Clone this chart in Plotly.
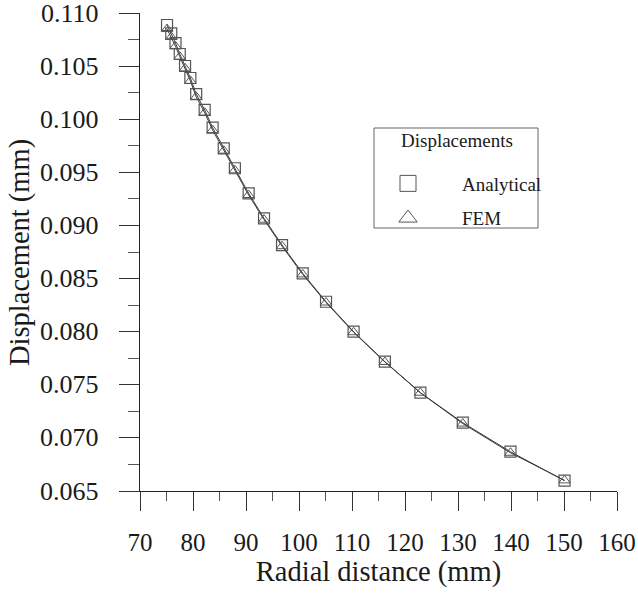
import plotly.graph_objects as go

# Radial distance (mm)
radial = [75.1, 75.9, 76.7, 77.5, 78.5, 79.5, 80.6, 82.2, 83.7, 85.8, 87.9,
          90.5, 93.4, 96.8, 100.7, 105.1, 110.3, 116.2, 122.9, 130.9, 139.9, 150.1]
# Displacement (mm)
analytical = [0.10888, 0.10810, 0.10718, 0.10615, 0.10502, 0.10389, 0.10238,
              0.10088, 0.09921, 0.09727, 0.09539, 0.09303, 0.09068, 0.08816,
              0.08550, 0.08282, 0.08000, 0.07718, 0.07426, 0.07143, 0.06870, 0.06597]
fem = [0.10850, 0.10775, 0.10688, 0.10590, 0.10480, 0.10362, 0.10212,
       0.10062, 0.09898, 0.09705, 0.09520, 0.09287, 0.09055, 0.08805,
       0.08540, 0.08275, 0.07995, 0.07715, 0.07425, 0.07135, 0.06860, 0.06600]

x_ticks = [70, 80, 90, 100, 110, 120, 130, 140, 150, 160]
y_ticks = [0.065, 0.070, 0.075, 0.080, 0.085, 0.090, 0.095, 0.100, 0.105, 0.110]
y_tick_labels = [f"{v:.3f}" for v in y_ticks]

FONT = "Liberation Serif"
TXT = "#1a1a1a"
NB = "\u00a0"
fig = go.Figure()

fig.add_trace(go.Scatter(
    x=radial, y=analytical, mode="lines+markers", showlegend=False,
    line=dict(color="#3a3a3a", width=1),
    marker=dict(symbol="square-open", size=11, color="#555555", line=dict(width=1.2)),
))
fig.add_trace(go.Scatter(
    x=radial, y=fem, mode="lines+markers", showlegend=False,
    line=dict(color="#3a3a3a", width=1),
    marker=dict(symbol="triangle-up-open", size=10, color="#555555", line=dict(width=1)),
))
# legend entries
fig.add_trace(go.Scatter(
    x=[None], y=[None], mode="markers", name=NB * 4 + "Analytical", legendgroup="a",
    marker=dict(symbol="square-open", size=20, color="#555555", line=dict(width=1)),
))
fig.add_trace(go.Scatter(
    x=[None], y=[None], mode="markers", name=NB * 4 + "FEM", legendgroup="b",
    marker=dict(symbol="triangle-up-open", size=20, color="#555555", line=dict(width=1)),
))

# legend frame and title
fig.add_shape(type="rect", xref="paper", yref="paper",
              x0=0.4906, x1=0.8344, y0=0.5502, y1=0.7594,
              line=dict(color="#666666", width=1), fillcolor="rgba(0,0,0,0)")
fig.add_annotation(text="Displacements", xref="paper", yref="paper",
                   x=0.6646, y=0.7343, xanchor="center", yanchor="middle",
                   showarrow=False, font=dict(size=19, family=FONT, color=TXT))

# y tick labels (placed on the y scale)
for v, lab in zip(y_ticks, y_tick_labels):
    fig.add_annotation(text=lab, xref="paper", yref="y", x=0, y=v,
                       xanchor="right", yanchor="middle", xshift=-39,
                       showarrow=False, font=dict(size=26, family=FONT, color=TXT))
# y axis title
fig.add_annotation(text="Displacement (mm)", xref="paper", yref="paper",
                   x=-0.2516, y=0.5, xanchor="center", yanchor="middle",
                   textangle=-90, showarrow=False,
                   font=dict(size=28.5, family=FONT, color=TXT))

fig.update_layout(
    width=638, height=593,
    margin=dict(l=140, r=21, t=13, b=102),
    paper_bgcolor="white", plot_bgcolor="white",
    font=dict(family=FONT, color=TXT),
    legend=dict(
        x=0.4885, y=0.683, xanchor="left", yanchor="top",
        borderwidth=0, bgcolor="rgba(0,0,0,0)",
        font=dict(size=19, family=FONT), itemwidth=60, tracegroupgap=7,
        itemsizing="trace",
    ),
    xaxis=dict(
        range=[70, 160], tickvals=x_ticks, ticktext=[str(v) for v in x_ticks],
        automargin=False,
        showgrid=False, zeroline=False, showline=True, linecolor="#222222", linewidth=1,
        ticks="outside", ticklen=19, tickcolor="#333333", tickwidth=1,
        minor=dict(dtick=5, ticks="outside", ticklen=9, tickcolor="#555555", showgrid=False),
        tickfont=dict(size=25, family=FONT), ticklabelstandoff=10,
        title=dict(text="Radial distance (mm)", font=dict(size=28.5, family=FONT), standoff=2),
    ),
    yaxis=dict(
        range=[0.065, 0.11001], tickvals=y_ticks, showticklabels=False,
        automargin=False,
        showgrid=False, zeroline=False, showline=True, linecolor="#222222", linewidth=1,
        ticks="outside", ticklen=20, tickcolor="#333333", tickwidth=1,
        minor=dict(dtick=0.0025, tick0=0.065, ticks="outside", ticklen=11, tickcolor="#555555", showgrid=False),
    ),
)

fig.write_html("out.html")
